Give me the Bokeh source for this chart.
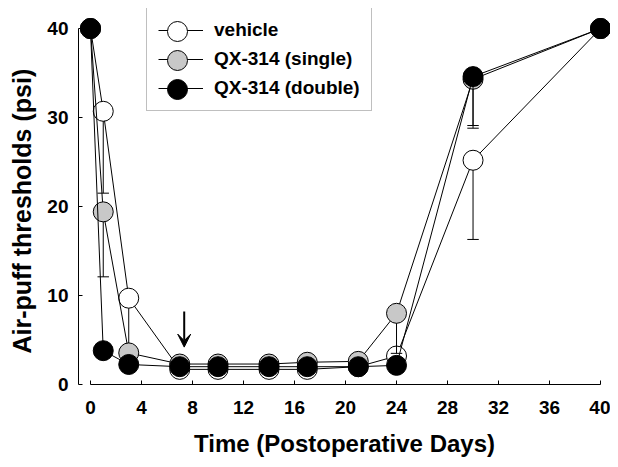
from bokeh.plotting import figure
from bokeh.models import (ColumnDataSource, Legend, LegendItem, Arrow, VeeHead,
                          FixedTicker, Range1d, Title)
from bokeh.core.properties import value
from bokeh.embed import file_html
from bokeh.resources import INLINE

# ---- data ----
days = [0, 1, 3, 7, 10, 14, 17, 21, 24, 30, 40]
vehicle = [40, 30.7, 9.7, 1.7, 1.7, 1.7, 1.7, 2.0, 3.2, 25.2, 40]
vehicle_sem = [0, 9.2, 5.5, 0.3, 0.3, 0.3, 0.3, 0.3, 0.5, 8.9, 0]
single = [40, 19.4, 3.55, 2.3, 2.3, 2.3, 2.5, 2.6, 8.0, 34.3, 40]
single_sem = [0, 7.3, 0.5, 0.3, 0.3, 0.3, 0.3, 0.3, 4.5, 5.5, 0]
double = [40, 3.8, 2.25, 2.0, 2.0, 2.0, 2.0, 2.0, 2.15, 34.6, 40]
double_sem = [0, 0.5, 0.3, 0.3, 0.3, 0.3, 0.3, 0.3, 0.3, 5.5, 0]
labels = ["vehicle", "QX-314 (single)", "QX-314 (double)"]
x_ticks = [0, 4, 8, 12, 16, 20, 24, 28, 32, 36, 40]
y_ticks = [0, 10, 20, 30, 40]
x_title = "Time (Postoperative Days)"
y_title = "Air-puff thresholds (psi)"
arrow_day = 7.35
arrow_top = 8.2
arrow_tip = 4.2

FONT = "Liberation Sans"
CAP = 0.45  # half width of error caps in days

p = figure(width=610, height=464, output_backend="svg", toolbar_location=None,
           x_range=Range1d(-0.94, 40.78), y_range=Range1d(0, 42.25),
           min_border_left=78, min_border_right=0, min_border_top=8,
           min_border_bottom=80)
p.outline_line_color = None
p.xgrid.visible = False
p.ygrid.visible = False
p.background_fill_color = "white"

series = [(vehicle, vehicle_sem, "white"), (single, single_sem, "#c8c8c8"),
          (double, double_sem, "black")]
line_items = []
scatters = []
for (vals, sem, fill), lab in zip(series, labels):
    lower = [v - s for v, s in zip(vals, sem)]
    src = ColumnDataSource(dict(x=days, y=vals, lower=lower,
                                cx0=[d - CAP for d in days],
                                cx1=[d + CAP for d in days]))
    p.segment(x0="x", y0="y", x1="x", y1="lower", source=src,
              line_color="black", line_width=1)
    p.segment(x0="cx0", y0="lower", x1="cx1", y1="lower", source=src,
              line_color="black", line_width=1)
    ln = p.line("x", "y", source=src, line_color="black", line_width=1)
    sc = p.scatter("x", "y", source=src, size=20, fill_color=fill,
                   line_color="black", line_width=1)
    line_items.append(LegendItem(label=lab, renderers=[ln]))
    scatters.append(sc)

p.add_layout(Arrow(x_start=arrow_day, y_start=arrow_top, x_end=arrow_day,
                   y_end=arrow_tip, line_width=2, line_color="black",
                   end=VeeHead(size=13, fill_color="black", line_color="black")))

# legend box with lines and labels
legend = Legend(items=line_items, location=(68, 273))
legend.label_text_font = FONT
legend.label_text_font_style = "bold"
legend.label_text_font_size = "19px"
legend.label_text_color = "black"
legend.label_height = 22
legend.glyph_height = 22
legend.glyph_width = 45
legend.label_standoff = 11
legend.spacing = 7
legend.padding = 11
legend.border_line_color = "#808080"
legend.border_line_width = 1
legend.background_fill_alpha = 1
p.add_layout(legend)

# large legend markers, one small legend per row, over the legend lines
for i, sc in enumerate(scatters):
    lm = Legend(items=[LegendItem(label=value(""), renderers=[sc])],
                location=(74, 328 - 29 * i))
    lm.glyph_height = 50
    lm.glyph_width = 50
    lm.label_height = 50
    lm.label_width = 0
    lm.label_standoff = 0
    lm.padding = 0
    lm.margin = 0
    lm.label_text_font_size = "1px"
    lm.border_line_color = None
    lm.background_fill_alpha = 0
    p.add_layout(lm)

for ax in (p.xaxis[0], p.yaxis[0]):
    ax.bounds = (0, 40)
    ax.axis_line_color = "black"
    ax.axis_line_width = 1
    ax.major_tick_in = 4
    ax.major_tick_out = 0
    ax.minor_tick_line_color = None
    ax.major_tick_line_color = "black"
    ax.major_label_text_font = FONT
    ax.major_label_text_font_style = "bold"
    ax.major_label_text_font_size = "19px"
    ax.major_label_text_color = "black"
    ax.axis_label_text_font = FONT
    ax.axis_label_text_font_style = "bold"
    ax.axis_label_text_font_size = "24px"
    ax.axis_label_text_color = "black"

p.xaxis.ticker = FixedTicker(ticks=x_ticks)
p.yaxis.ticker = FixedTicker(ticks=y_ticks)
p.xaxis.axis_label = x_title
p.xaxis.major_label_standoff = 16
p.yaxis.major_label_standoff = 10
p.xaxis.axis_label_standoff = 13

# y title in the left panel, started 31px above the frame bottom
p.add_layout(Title(text=y_title, align="left", offset=31, standoff=13,
                   vertical_align="top",
                   text_font=FONT, text_font_style="bold",
                   text_font_size="25px", text_color="black"), "left")

open("out.html", "w").write(file_html(p, INLINE))
